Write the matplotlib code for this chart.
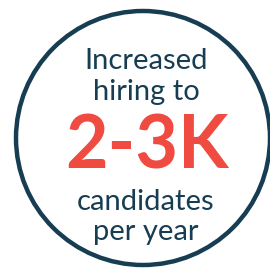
import matplotlib.pyplot as plt
from matplotlib.patches import Circle

# text content of the badge
top_lines = ["Increased", "hiring to"]
headline = "2-3K"
bottom_lines = ["candidates", "per year"]

navy = "#173d52"
red = "#f04b41"

fig = plt.figure(figsize=(2.70, 2.71), dpi=100)
ax = fig.add_axes([0, 0, 1, 1])
ax.set_xlim(0, 270)
ax.set_ylim(271, 0)
ax.axis("off")

# outer ring
ax.add_patch(Circle((143, 138), 127, fill=False, edgecolor=navy, linewidth=3.2))

# small text lines
for txt, y in zip(top_lines + bottom_lines, [61, 92, 202, 232]):
    ax.text(146, y, txt, ha="center", va="center", fontsize=21,
            color=navy, family="Lato")

# big number
ax.text(147, 147, headline, ha="center", va="center", fontsize=53,
        color=red, family="Lato", fontweight="bold")

fig.savefig("out.png", dpi=100)
